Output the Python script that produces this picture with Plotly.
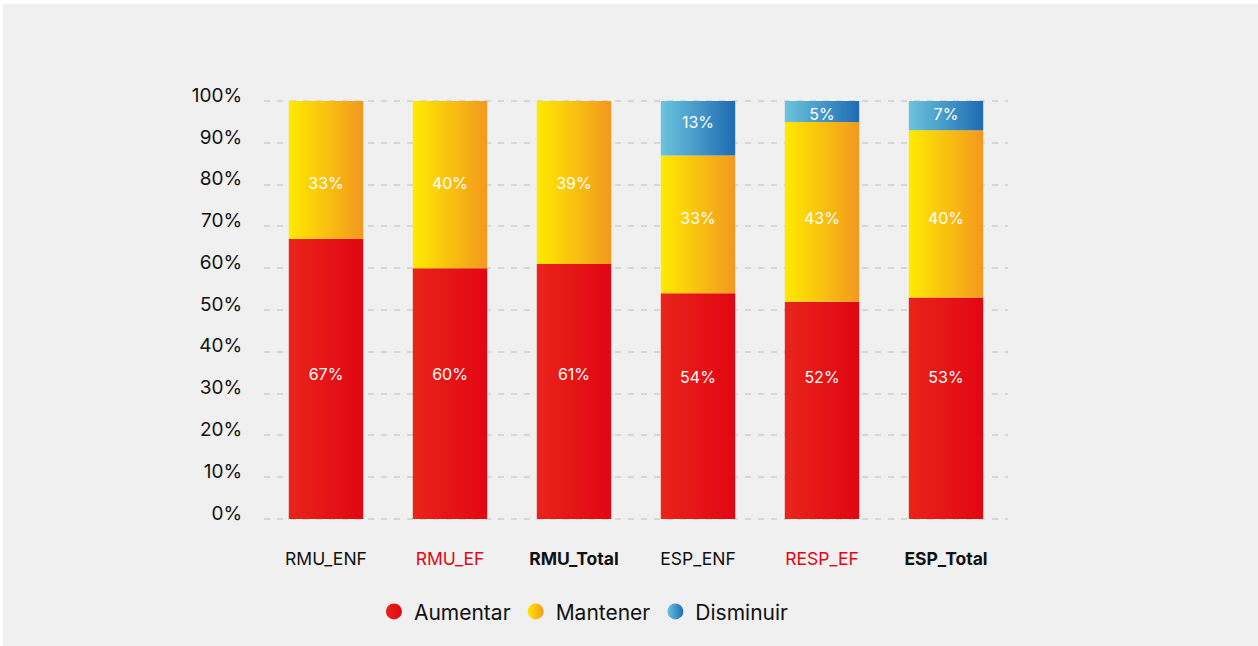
import plotly.graph_objects as go

# Survey responses per group (percent of respondents)
categories = ["RMU_ENF", "RMU_EF", "RMU_Total", "ESP_ENF", "RESP_EF", "ESP_Total"]
aumentar = [67, 60, 61, 54, 52, 53]
mantener = [33, 40, 39, 33, 43, 40]
disminuir = [0, 0, 0, 13, 5, 7]
series_names = ["Aumentar", "Mantener", "Disminuir"]
y_ticks = [0, 10, 20, 30, 40, 50, 60, 70, 80, 90, 100]

# Tick label styling: red for the EF groups, bold for totals
tick_text = [
    "RMU_ENF",
    "<span style='color:#e30613'>RMU_EF</span>",
    "<b>RMU_Total</b>",
    "ESP_ENF",
    "<span style='color:#e30613'>RESP_EF</span>",
    "<b>ESP_Total</b>",
]

# Horizontal gradients (left colour, right colour) for each series
gradients = [
    ("#e9241a", "#e10613"),
    ("#ffea00", "#f3981f"),
    ("#6cc4dd", "#1e6bb3"),
]

# Height (in axis units) at which each series' value label sits, per group
label_heights = [
    [34.2, 34.2, 34.2, 33.5, 33.5, 33.5],
    [79.9, 79.9, 79.9, 71.5, 71.5, 71.5],
    [94.5, 94.5, 94.5, 94.5, 96.4, 96.4],
]

FONT = "Inter"
BAR_HALF = 0.3

fig = go.Figure()

series = [aumentar, mantener, disminuir]
for i, cat in enumerate(categories):
    base = 0
    for s, values in enumerate(series):
        v = values[i]
        if v <= 0:
            continue
        top = base + v
        c0, c1 = gradients[s]
        fig.add_trace(go.Scatter(
            x=[i - BAR_HALF, i + BAR_HALF, i + BAR_HALF, i - BAR_HALF, i - BAR_HALF],
            y=[base, base, top, top, base],
            mode="none",
            fill="toself",
            fillgradient=dict(type="horizontal", colorscale=[[0, c0], [1, c1]]),
            showlegend=False,
            hoverinfo="skip",
        ))
        fig.add_trace(go.Scatter(
            x=[i], y=[label_heights[s][i]],
            mode="text",
            text=[f"{v}%"],
            textfont=dict(family=FONT, size=16, color="white"),
            showlegend=False,
            hoverinfo="skip",
        ))
        base = top

# Legend entries: gradient circles
for s, name in enumerate(series_names):
    c0, c1 = gradients[s]
    fig.add_trace(go.Scatter(
        x=[None], y=[None],
        mode="markers",
        name=name,
        marker=dict(symbol="circle", size=16, color=c0,
                    gradient=dict(type="horizontal", color=c1)),
    ))

# Plot area in pixels (y range is padded by half a unit on each side)
L, R, T, B = 264, 1008, 99, 521
W, H = 1258, 646
pw, ph = R - L, B - T

fig.add_shape(
    type="rect", xref="paper", yref="paper", layer="below",
    x0=(3 - L) / pw, x1=(W - L) / pw,
    y0=(B - H) / ph, y1=(B - 4) / ph,
    fillcolor="#f0f0f0", line=dict(width=0),
)

fig.update_layout(
    width=W, height=H,
    margin=dict(l=L, r=W - R, t=T, b=H - B),
    paper_bgcolor="white",
    plot_bgcolor="rgba(0,0,0,0)",
    font=dict(family=FONT, color="#111111"),
    showlegend=True,
    legend=dict(
        orientation="h",
        x=0.43, xanchor="center",
        y=-0.215, yanchor="middle",
        font=dict(family=FONT, size=21, color="#111111"),
        itemsizing="trace",
        tracegroupgap=0,
        bgcolor="rgba(0,0,0,0)",
    ),
    xaxis=dict(
        range=[-0.5, len(categories) - 0.5],
        tickmode="array",
        tickvals=list(range(len(categories))),
        ticktext=tick_text,
        tickfont=dict(family=FONT, size=17.5, color="#111111"),
        showgrid=False, zeroline=False, showline=False,
        ticks="outside", ticklen=0, tickcolor="rgba(0,0,0,0)",
        ticklabelstandoff=22,
        fixedrange=True,
    ),
    yaxis=dict(
        range=[-0.5, 100.5],
        tickmode="array",
        tickvals=y_ticks,
        ticktext=[f"{t}%" for t in y_ticks],
        tickfont=dict(family=FONT, size=19, color="#111111"),
        showgrid=True,
        gridcolor="#d6d6d6",
        griddash="6px,7px",
        gridwidth=2,
        zeroline=False, showline=False,
        ticks="outside", ticklen=0, tickcolor="rgba(0,0,0,0)",
        ticklabelstandoff=17,
        ticklabelshift=-6,
        fixedrange=True,
    ),
)

fig.write_html("out.html")
